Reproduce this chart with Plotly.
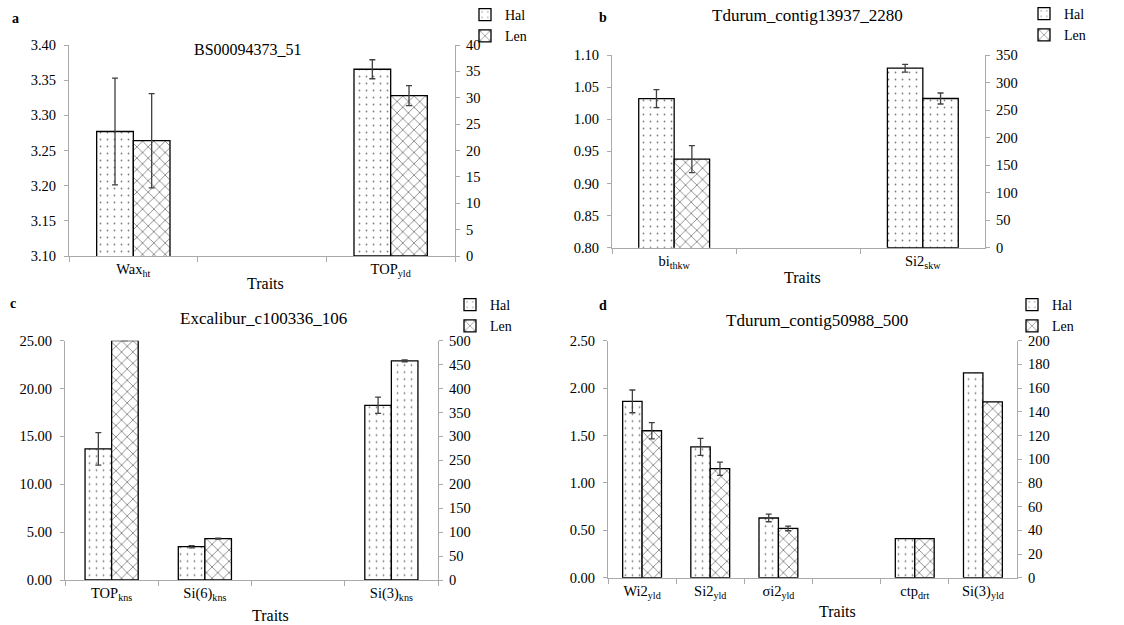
import plotly.graph_objects as go

W, H = 1124, 625
FONT = "Liberation Serif, Times New Roman, serif"

# ---------------- data ----------------
# Panel a: BS00094373_51
a_categories = ["Wax<sub>ht</sub>", " ", "TOP<sub>yld</sub>"]
a_hal_left = [3.277, None, None]
a_hal_left_err = [0.076, None, None]
a_len_left = [3.264, None, None]
a_len_left_err = [0.067, None, None]
a_hal_right = [None, None, 35.4]
a_hal_right_err = [None, None, 1.8]
a_len_right = [None, None, 30.4]
a_len_right_err = [None, None, 1.9]

# Panel b: Tdurum_contig13937_2280
b_categories = ["bi<sub>thkw</sub>", " ", "Si2<sub>skw</sub>"]
b_hal_left = [1.032, None, None]
b_hal_left_err = [0.014, None, None]
b_len_left = [0.938, None, None]
b_len_left_err = [0.021, None, None]
b_hal_right = [None, None, 326]
b_hal_right_err = [None, None, 7]
b_len_right = [None, None, 271]
b_len_right_err = [None, None, 10]

# Panel c: Excalibur_c100336_106
c_categories = ["TOP<sub>kns</sub>", "Si(6)<sub>kns</sub>", " ", "Si(3)<sub>kns</sub>"]
c_hal_left = [13.7, 3.48, None, None]
c_hal_left_err = [1.7, 0.12, None, None]
c_len_left = [25.0, 4.32, None, None]
c_len_left_err = [None, 0.05, None, None]
c_hal_right = [None, None, None, 365]
c_hal_right_err = [None, None, None, 17]
c_len_right = [None, None, None, 458]
c_len_right_err = [None, None, None, 2]

# Panel d: Tdurum_contig50988_500
d_categories = ["Wi2<sub>yld</sub>", "Si2<sub>yld</sub>", "σi2<sub>yld</sub>", " ",
                "ctp<sub>drt</sub>", "Si(3)<sub>yld</sub>"]
d_hal_left = [1.86, 1.38, 0.63, None, None, None]
d_hal_left_err = [0.12, 0.09, 0.04, None, None, None]
d_len_left = [1.55, 1.15, 0.52, None, None, None]
d_len_left_err = [0.085, 0.07, 0.025, None, None, None]
d_hal_right = [None, None, None, None, 33, 172.8]
d_len_right = [None, None, None, None, 33, 148.3]

series_names = ["Hal", "Len"]
panel_letters = ["a", "b", "c", "d"]
panel_titles = ["BS00094373_51", "Tdurum_contig13937_2280",
                "Excalibur_c100336_106", "Tdurum_contig50988_500"]
x_title = "Traits"

# ---------------- helpers ----------------
def fx(px):
    return px / W

def fy(py):
    return 1 - py / H

AXIS_GRAY = "#aaaaaa"
ERR_COLOR = "#404040"

def pattern(shape):
    if shape == ".":
        return dict(shape=".", size=7, solidity=0.05, fgcolor="black", bgcolor="white", fillmode="overlay")
    return dict(shape="x", size=8, solidity=0.2, fgcolor="black", bgcolor="white", fillmode="overlay")

def err(arr):
    if arr is None:
        return None
    return dict(type="data", array=arr, visible=True, color=ERR_COLOR, thickness=1.3, width=3)

fig = go.Figure()

panels = [
    dict(cats=a_categories, hl=a_hal_left, hle=a_hal_left_err, ll=a_len_left, lle=a_len_left_err,
         hr=a_hal_right, hre=a_hal_right_err, lr=a_len_right, lre=a_len_right_err, len_right_shape="x",
         xdom=(69, 455), ydom=(45, 256), yl=(3.10, 3.40, 0.05, ".2f"), yr=(0, 40, 5, "d")),
    dict(cats=b_categories, hl=b_hal_left, hle=b_hal_left_err, ll=b_len_left, lle=b_len_left_err,
         hr=b_hal_right, hre=b_hal_right_err, lr=b_len_right, lre=b_len_right_err, len_right_shape=".",
         xdom=(612, 985), ydom=(55, 247.7), yl=(0.80, 1.10, 0.05, ".2f"), yr=(0, 350, 50, "d")),
    dict(cats=c_categories, hl=c_hal_left, hle=c_hal_left_err, ll=c_len_left, lle=c_len_left_err,
         hr=c_hal_right, hre=c_hal_right_err, lr=c_len_right, lre=c_len_right_err, len_right_shape=".",
         xdom=(65, 438), ydom=(340.7, 580), yl=(0, 25, 5, ".2f"), yr=(0, 500, 50, "d")),
    dict(cats=d_categories, hl=d_hal_left, hle=d_hal_left_err, ll=d_len_left, lle=d_len_left_err,
         hr=d_hal_right, hre=None, lr=d_len_right, lre=None, len_right_shape="x",
         xdom=(608, 1017), ydom=(340.7, 577.7), yl=(0, 2.5, 0.5, ".2f"), yr=(0, 200, 20, "d")),
]

legend_pos = [(465, -1), (1024, -2), (450, 289), (1012, 289)]

layout = dict(
    width=W, height=H, margin=dict(l=0, r=0, t=0, b=0, autoexpand=False),
    paper_bgcolor="white", plot_bgcolor="white",
    barmode="group", bargap=0.43, bargroupgap=0,
    font=dict(family=FONT, size=14.5, color="black"),
    showlegend=True,
)

annotations = []
tickfont = dict(family=FONT, size=14.5, color="black")

for i, p in enumerate(panels):
    n = i + 1
    xa = "x" if n == 1 else f"x{n}"
    yl_id = 2 * i + 1
    yr_id = 2 * i + 2
    yla = "y" if yl_id == 1 else f"y{yl_id}"
    yra = f"y{yr_id}"
    leg = "legend" if n == 1 else f"legend{n}"
    bar_line = dict(color="black", width=1.3)

    fig.add_trace(go.Bar(x=p["cats"], y=p["hl"], name=series_names[0], xaxis=xa, yaxis=yla,
                         marker=dict(color="white", line=bar_line, pattern=pattern(".")),
                         error_y=err(p["hle"]), legend=leg, showlegend=True))
    fig.add_trace(go.Bar(x=p["cats"], y=p["ll"], name=series_names[1], xaxis=xa, yaxis=yla,
                         marker=dict(color="white", line=bar_line, pattern=pattern("x")),
                         error_y=err(p["lle"]), legend=leg, showlegend=True))
    fig.add_trace(go.Bar(x=p["cats"], y=p["hr"], name=series_names[0], xaxis=xa, yaxis=yra,
                         marker=dict(color="white", line=bar_line, pattern=pattern(".")),
                         error_y=err(p["hre"]), legend=leg, showlegend=False))
    fig.add_trace(go.Bar(x=p["cats"], y=p["lr"], name=series_names[1], xaxis=xa, yaxis=yra,
                         marker=dict(color="white", line=bar_line, pattern=pattern(p["len_right_shape"])),
                         error_y=err(p["lre"]), legend=leg, showlegend=False))

    xkey = "xaxis" if n == 1 else f"xaxis{n}"
    ylkey = "yaxis" if yl_id == 1 else f"yaxis{yl_id}"
    yrkey = f"yaxis{yr_id}"

    layout[xkey] = dict(
        domain=[fx(p["xdom"][0]), fx(p["xdom"][1])], anchor=yla, type="category",
        categoryorder="array", categoryarray=p["cats"], tickson="boundaries",
        ticks="outside", ticklen=5, tickcolor=AXIS_GRAY, showline=True, linecolor=AXIS_GRAY,
        linewidth=1, showgrid=False, zeroline=False, tickfont=tickfont, fixedrange=True,
        automargin=False,
    )
    lo, hi, dt, fmt = p["yl"]
    layout[ylkey] = dict(
        domain=[fy(p["ydom"][1]), fy(p["ydom"][0])], anchor=xa, range=[lo, hi], dtick=dt, tick0=lo,
        tickformat=fmt, ticks="outside", ticklen=4, tickcolor=AXIS_GRAY, showline=True,
        linecolor=AXIS_GRAY, linewidth=1, showgrid=False, zeroline=False, tickfont=tickfont,
        ticklabelstandoff=5, automargin=False,
    )
    lo, hi, dt, fmt = p["yr"]
    layout[yrkey] = dict(
        overlaying=yla, side="right", anchor=xa, range=[lo, hi], dtick=dt, tick0=lo,
        tickformat=fmt, ticks="outside", ticklen=4, tickcolor=AXIS_GRAY, showline=True,
        linecolor=AXIS_GRAY, linewidth=1, showgrid=False, zeroline=False, tickfont=tickfont,
        ticklabelstandoff=3, automargin=False,
    )
    lx, ly = legend_pos[i]
    layout[leg] = dict(x=fx(lx), y=fy(ly), xanchor="left", yanchor="top",
                       bgcolor="rgba(0,0,0,0)", font=dict(family=FONT, size=14, color="black"),
                       tracegroupgap=0, itemwidth=30, traceorder="normal")

letter_pos = [(15, 18), (603, 17), (13, 303), (603, 305)]
title_pos = [(248, 50, 16), (807, 15, 17), (263, 318, 17), (817, 320, 17)]
traits_pos = [(265, 283), (802, 277), (270, 615), (837, 611)]

for i in range(4):
    common = dict(xref="paper", yref="paper", showarrow=False, xanchor="center", yanchor="middle")
    x, y = letter_pos[i]
    annotations.append(dict(text=f"<b>{panel_letters[i]}</b>", x=fx(x), y=fy(y),
                            font=dict(family=FONT, size=14, color="black"), **common))
    x, y, s = title_pos[i]
    annotations.append(dict(text=panel_titles[i], x=fx(x), y=fy(y),
                            font=dict(family=FONT, size=s, color="black"), **common))
    x, y = traits_pos[i]
    annotations.append(dict(text=x_title, x=fx(x), y=fy(y),
                            font=dict(family=FONT, size=16, color="black"), **common))

layout["annotations"] = annotations
fig.update_layout(**layout)

fig.write_html("out.html")
